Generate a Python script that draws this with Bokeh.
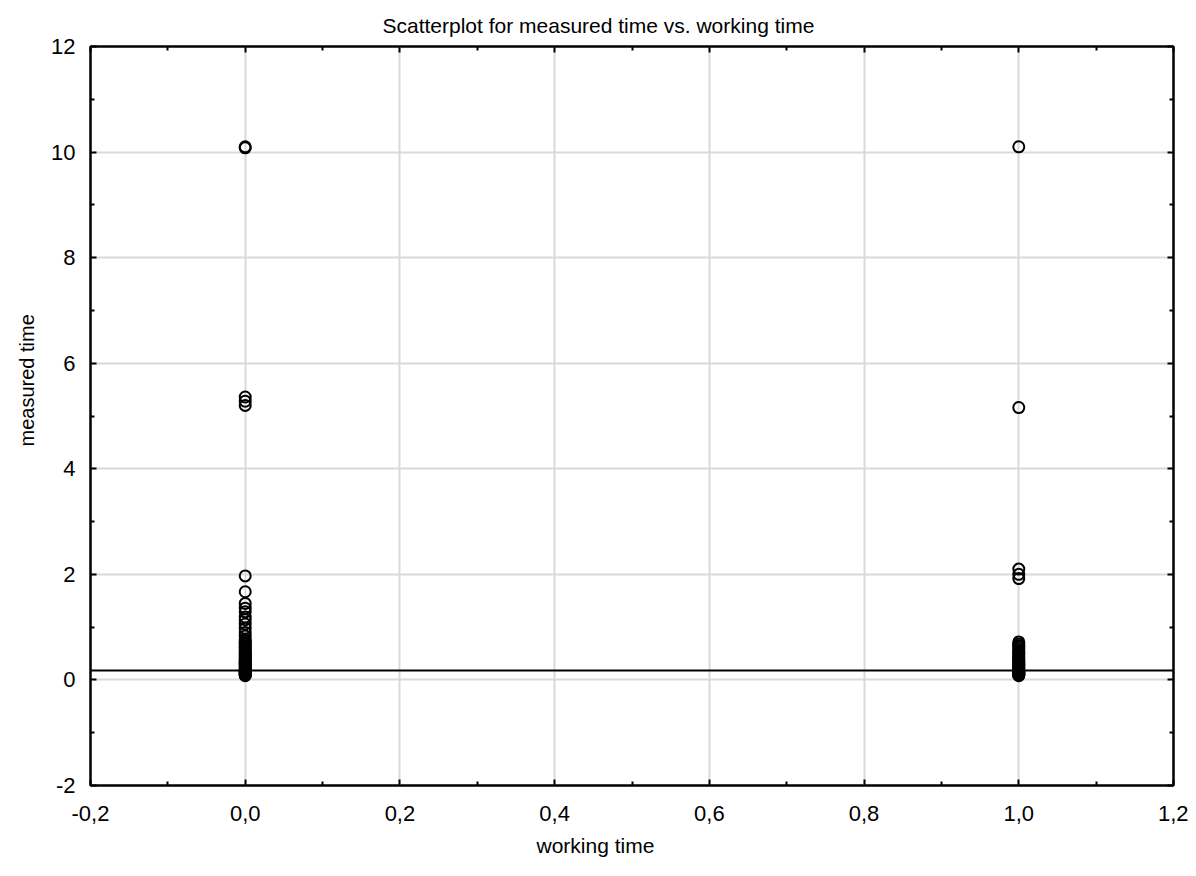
from bokeh.plotting import figure
from bokeh.models import (LinearAxis, FixedTicker, CustomJSTickFormatter,
                          Range1d, ColumnDataSource, Title)
from bokeh.embed import file_html
from bokeh.resources import INLINE

# ---- data ----
x0_values = [10.1, 10.08, 5.36, 5.28, 5.2, 1.97, 1.67, 1.45, 1.36, 1.29, 1.19, 1.14,
             1.06, 0.98, 0.9, 0.83, 0.77, 0.74, 0.71, 0.68, 0.65, 0.62, 0.6, 0.57,
             0.55, 0.52, 0.5, 0.48, 0.46, 0.44, 0.42, 0.4, 0.38, 0.36, 0.34, 0.32,
             0.3, 0.28, 0.26, 0.24, 0.22, 0.2, 0.19, 0.18, 0.17, 0.16, 0.15, 0.14,
             0.13, 0.12, 0.11, 0.1, 0.09, 0.08]
x1_values = [10.1, 5.16, 2.1, 2.0, 1.92, 0.72, 0.68, 0.65, 0.62, 0.58, 0.55, 0.52,
             0.5, 0.47, 0.44, 0.42, 0.4, 0.37, 0.35, 0.33, 0.3, 0.28, 0.26, 0.24,
             0.22, 0.2, 0.18, 0.16, 0.15, 0.14, 0.13, 0.12, 0.11, 0.1, 0.09, 0.08]
working_time_groups = [0.0, 1.0]
fit_intercept = 0.18
fit_slope = 0.0
x_limits = [-0.2, 1.2]
y_limits = [-2, 12]
x_ticks = [-0.2, 0.0, 0.2, 0.4, 0.6, 0.8, 1.0, 1.2]
x_minor_ticks = [-0.1, 0.1, 0.3, 0.5, 0.7, 0.9, 1.1]
y_ticks = [-2, 0, 2, 4, 6, 8, 10, 12]
y_minor_ticks = [-1, 1, 3, 5, 7, 9, 11]

title_text = "Scatterplot for measured time vs. working time"
x_label = "working time"
y_label = "measured time"

FONT = "Liberation Sans"

xs = [working_time_groups[0]] * len(x0_values) + [working_time_groups[1]] * len(x1_values)
ys = x0_values + x1_values
src = ColumnDataSource(dict(x=xs, y=ys))

p = figure(width=1188, height=872, output_backend="svg", toolbar_location=None,
           x_range=Range1d(*x_limits), y_range=Range1d(*y_limits),
           x_axis_location=None, y_axis_location=None,
           min_border_left=90, min_border_right=15, min_border_top=46,
           min_border_bottom=87)

p.title.text = title_text
p.title.align = "left"
p.title.offset = 292
p.title.text_font = FONT
p.title.text_font_size = "21px"
p.title.text_font_style = "normal"
p.title.text_color = "black"
p.title.standoff = 20

xt = FixedTicker(ticks=x_ticks, minor_ticks=x_minor_ticks)
yt = FixedTicker(ticks=y_ticks, minor_ticks=y_minor_ticks)
xfmt = CustomJSTickFormatter(code="return tick.toFixed(1).replace('.', ',');")
yfmt = CustomJSTickFormatter(code="return Math.round(tick).toString();")
blank = CustomJSTickFormatter(code="return '';")


def style(ax):
    ax.axis_line_color = "black"
    ax.axis_line_width = 2
    ax.major_tick_in = 6
    ax.major_tick_out = 0
    ax.minor_tick_in = 4
    ax.minor_tick_out = 0
    ax.major_tick_line_color = "black"
    ax.major_tick_line_width = 2
    ax.minor_tick_line_color = "black"
    ax.minor_tick_line_width = 2
    ax.major_label_text_font = FONT
    ax.major_label_text_font_size = "22px"
    ax.major_label_text_color = "black"


xb = LinearAxis(ticker=xt, formatter=xfmt)
style(xb)
xb.major_label_standoff = 20
p.add_layout(xb, "below")

yl = LinearAxis(ticker=yt, formatter=yfmt)
style(yl)
yl.major_label_standoff = 15
p.add_layout(yl, "left")

xa = LinearAxis(ticker=xt, formatter=blank)
style(xa)
xa.major_label_text_font_size = "0px"
xa.major_label_standoff = 0
p.add_layout(xa, "above")

yr = LinearAxis(ticker=yt, formatter=blank)
style(yr)
yr.major_label_text_font_size = "0px"
yr.major_label_standoff = 0
p.add_layout(yr, "right")

# axis titles (placed like the reference: not centred on the frame)
x_title = Title(text=x_label, align="left", offset=446, standoff=16,
                text_font=FONT, text_font_size="21px", text_font_style="normal",
                text_color="black")
p.add_layout(x_title, "below")
y_title = Title(text=y_label, align="left", offset=339, standoff=22,
                text_font=FONT, text_font_size="20px", text_font_style="normal",
                text_color="black")
p.add_layout(y_title, "left")

p.xgrid.ticker = xt
p.ygrid.ticker = yt
p.xgrid.grid_line_color = "#d9d9d9"
p.ygrid.grid_line_color = "#d9d9d9"
p.xgrid.grid_line_width = 2
p.ygrid.grid_line_width = 2

p.outline_line_color = "black"
p.outline_line_width = 2

# fitted line across the full x range
fx = list(x_limits)
fy = [fit_intercept + fit_slope * v for v in fx]
p.line(fx, fy, line_color="black", line_width=2)

p.scatter("x", "y", source=src, marker="circle", size=11, fill_color=None,
          line_color="black", line_width=2)

open("out.html", "w").write(file_html(p, INLINE))
